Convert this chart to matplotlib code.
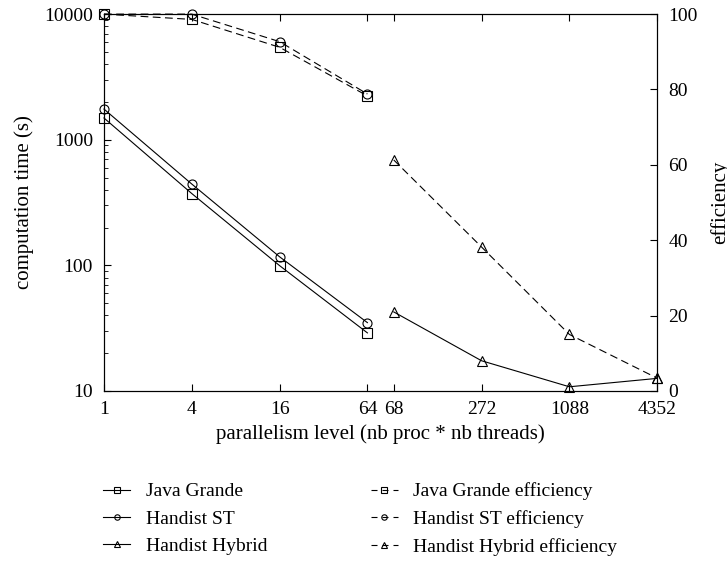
import numpy as np
import matplotlib
matplotlib.use("Agg")
import matplotlib.pyplot as plt
from matplotlib.ticker import FixedLocator, NullLocator, LogLocator, NullFormatter, FuncFormatter

plt.rcParams["font.family"] = "serif"
plt.rcParams["font.serif"] = ["Liberation Serif", "DejaVu Serif"]
plt.rcParams["font.size"] = 14

# parallelism levels (two ranges, drawn with a small break between 64 and 68)
levels_st = [1, 4, 16, 64]
levels_hy = [68, 272, 1088, 4352]
xtick_vals = levels_st + levels_hy

# computation time (s)
jg_time = [1490, 373, 99.5, 29]
st_time = [1755, 444, 117, 35]
hy_time = [42.6, 17.4, 10.8, 12.6]

# efficiency (%)
jg_eff = [100, 98.6, 91.2, 78.3]
st_eff = [100, 100, 92.7, 78.8]
hy_eff = [61.3, 38.2, 15.0, 3.4]

GAP = 0.3  # axis break between 64 and 68, in "factor of 4" units


def fwd(x):
    x = np.asarray(x, dtype=float)
    with np.errstate(all="ignore"):
        xc = np.clip(x, 1e-9, None)
        lo = np.log(xc) / np.log(4)
        hi = 3 + GAP + np.log(xc / 68) / np.log(4)
        mid = 3 + GAP * (x - 64) / 4
    return np.where(x <= 64, lo, np.where(x >= 68, hi, mid))


def inv(u):
    u = np.asarray(u, dtype=float)
    with np.errstate(all="ignore"):
        lo = 4.0 ** u
        hi = 68 * 4.0 ** (u - 3 - GAP)
        mid = 64 + 4 * (u - 3) / GAP
    return np.where(u <= 3, lo, np.where(u >= 3 + GAP, hi, mid))


fig = plt.figure(figsize=(7.27, 5.65), dpi=100)
ax = fig.add_axes([0.143, 0.308, 0.761, 0.667])
ax.set_xscale("function", functions=(fwd, inv))
ax.set_yscale("log")
ax2 = ax.twinx()

lw = 0.8
common = dict(color="black", lw=lw, ms=6.5, mfc="none", mec="black", mew=0.8, clip_on=False)
dash = (0, (7, 4))

h1, = ax.plot(levels_st, jg_time, marker="s", label="Java Grande", **common)
h2, = ax.plot(levels_st, st_time, marker="o", label="Handist ST", **common)
h3, = ax.plot(levels_hy, hy_time, marker="^", label="Handist Hybrid", **common)
h4, = ax2.plot(levels_st, jg_eff, marker="s", ls=dash, label="Java Grande efficiency", **common)
h5, = ax2.plot(levels_st, st_eff, marker="o", ls=dash, label="Handist ST efficiency", **common)
h6, = ax2.plot(levels_hy, hy_eff, marker="^", ls=dash, label="Handist Hybrid efficiency", **common)

ax.set_xlim(1, 4352)
ax.set_ylim(10, 10000)
ax2.set_ylim(0, 100)

ax.xaxis.set_major_locator(FixedLocator(xtick_vals))
ax.xaxis.set_minor_locator(NullLocator())
ax.xaxis.set_major_formatter(FuncFormatter(lambda v, p: "%d" % round(v)))
ax.yaxis.set_major_locator(LogLocator(base=10))
ax.yaxis.set_minor_locator(LogLocator(base=10, subs=np.arange(2, 10)))
ax.yaxis.set_major_formatter(FuncFormatter(lambda v, p: "%d" % round(v)))
ax.yaxis.set_minor_formatter(NullFormatter())
ax2.set_yticks([0, 20, 40, 60, 80, 100])

ax.tick_params(which="major", direction="in", length=5, width=0.8, top=True, pad=8)
ax.tick_params(which="minor", direction="in", length=3, width=0.6)
ax.tick_params(axis="x", pad=7)
ax2.tick_params(direction="in", length=5, width=0.8, pad=8)
for a in (ax, ax2):
    for s in a.spines.values():
        s.set_linewidth(0.8)

ax.set_xlabel("parallelism level (nb proc * nb threads)", fontsize=15, labelpad=5)
ax.set_ylabel("computation time (s)", fontsize=15, labelpad=7)
ax2.set_ylabel("efficiency", fontsize=15, labelpad=9)

handles = [h1, h2, h3, h4, h5, h6]
leg = fig.legend(handles, [h.get_label() for h in handles],
                 ncol=2, loc="upper left", bbox_to_anchor=(0.142, 0.146),
                 frameon=False, borderpad=0, borderaxespad=0,
                 handlelength=1.4, handletextpad=0.8, columnspacing=5.3,
                 labelspacing=0.5, markerscale=0.6)
# short symmetric dashes for the efficiency handles: "- marker -"
for line in leg.get_lines()[3:]:
    line.set_dashes((5.4, 4.5))

fig.savefig("out.png", dpi=100)
